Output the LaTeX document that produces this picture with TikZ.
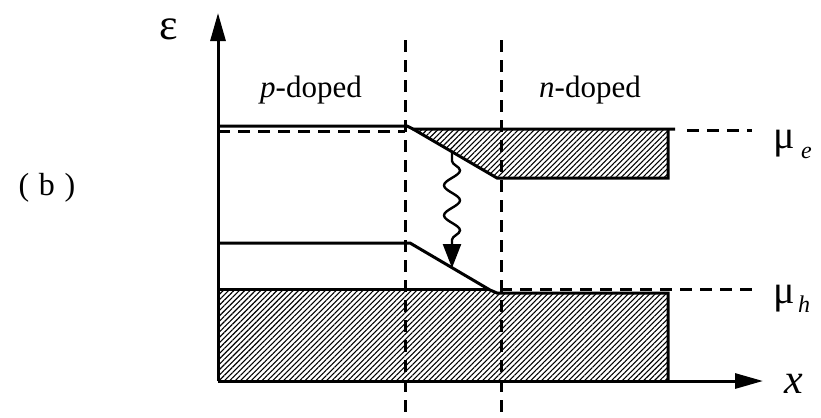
\documentclass[tikz,border=0pt]{standalone}
\usepackage{fontspec}
\setmainfont{Liberation Serif}
\usetikzlibrary{arrows.meta,patterns.meta,decorations.pathmorphing}
\begin{document}
\begin{tikzpicture}[x=1bp,y=-1bp,
  band/.style={line width=3bp, line join=miter},
  guide/.style={line width=3bp, dash pattern=on 12bp off 8bp},
  hatch/.style={pattern={Lines[angle=45,distance=3.8bp,line width=1.1bp]}},
  lbl/.style={inner sep=0pt, font=\fontsize{31bp}{36bp}\selectfont},
  sym/.style={inner sep=0pt, font=\fontsize{40bp}{46bp}\selectfont},
  subs/.style={inner sep=0pt, font=\fontsize{24bp}{28bp}\selectfont\itshape},
  axistip/.style={-{Triangle[length=28bp,width=15bp]}}]
\useasboundingbox (0,0) rectangle (821,417);
% coordinates
\coordinate (O) at (218,381);
\coordinate (Ytop) at (218,13);
\coordinate (Xend) at (763,381);
\coordinate (d1t) at (405,40); \coordinate (d1b) at (405,417);
\coordinate (d2t) at (501,40); \coordinate (d2b) at (501,417);
% hatched regions
\fill[hatch] (413,129) -- (668,129) -- (668,178) -- (497,178) -- cycle;
\fill[hatch] (218,289) -- (490,289) -- (497,293) -- (668,293) -- (668,381) -- (218,381) -- cycle;
% dashed guides
\draw[guide] (d1t) -- (d1b);
\draw[guide] (d2t) -- (d2b);
\draw[guide] (218,131) -- (405,131);
\draw[guide] (687,130) -- (752,130);
\draw[guide] (500,289) -- (752,289);
% conduction band
\draw[band] (218,126) -- (407,126) -- (413,129) -- (675,129);
\draw[band] (413,129) -- (497,178) -- (668,178) -- (668,129);
% valence band
\draw[band] (218,243) -- (410,243) -- (490,290) -- (497,293) -- (668,293) -- (668,381);
\draw[band] (218,289) -- (490,289);
% axes
\draw[band, axistip] (O) -- (Ytop);
\draw[band, axistip] (O) -- (Xend);
% photon
\coordinate (w1) at (452,153);
\coordinate (w2) at (452,268);
\draw[line width=2.4bp, decorate, decoration={snake, segment length=30bp, amplitude=8bp, pre length=8bp, post length=26bp},
  -{Triangle[length=24bp,width=18bp]}] (w1) -- (w2);
% labels
\node[sym, font=\fontsize{44bp}{50bp}\selectfont] (eps) at (169,29) {ε};
\node[lbl, anchor=base] (pd) at (311,97) {\textit{p}-doped};
\node[lbl, anchor=base] (nd) at (590,97) {\textit{n}-doped};
\node[lbl, font=\fontsize{32bp}{36bp}\selectfont] (b) at (47,188) {(\hspace{0.3em}b\hspace{0.3em})};
\node[sym, anchor=base west] (mue) at (773,148) {μ};
\node[subs, anchor=base west] (sube) at (801,158) {e};
\node[sym, anchor=base west] (muh) at (773,303) {μ};
\node[subs, anchor=base west] (subh) at (798,312) {h};
\node[sym, font=\fontsize{42bp}{48bp}\selectfont\itshape, anchor=base] (xl) at (794,393) {x};
\end{tikzpicture}
\end{document}
